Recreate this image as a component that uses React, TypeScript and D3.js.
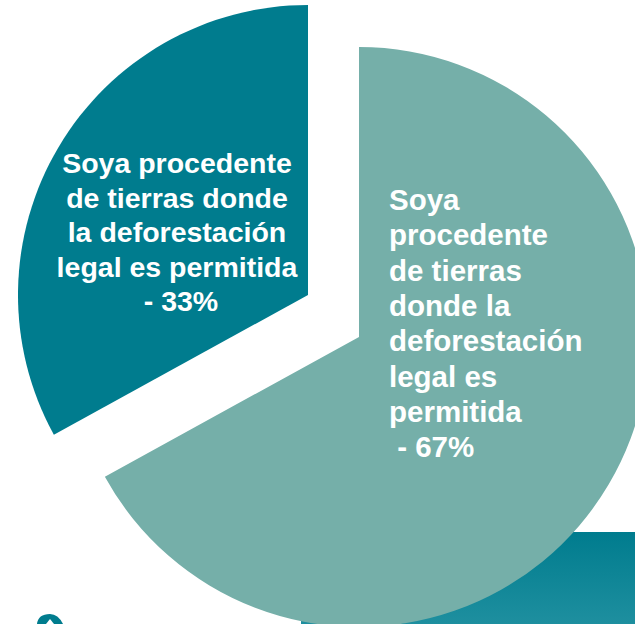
import React from 'react'
import * as d3 from 'd3'

// data
const categories = ['legal67', 'legal33']
const shares = [67, 33]
const labels = [
  ['Soya', 'procedente', 'de tierras', 'donde la', 'deforestación', 'legal es', 'permitida', ' - 67%'],
  ['Soya procedente', 'de tierras donde', 'la deforestación', 'legal es permitida', ' - 33%'],
]
const colors = ['#75AFA9', '#007C8E']

const W = 635
const H = 624
const R = 290
// each slice is pulled apart, so each has its own centre
const centres: [number, number][] = [
  [359, 337],
  [308, 295],
]

const App = () => {
  const pie = d3.pie<number>().sort(null).startAngle(0).endAngle(2 * Math.PI)
  const arcs = pie(shares)
  const arc = d3.arc<d3.PieArcDatum<number>>().innerRadius(0).outerRadius(R)
  const font = '"Liberation Sans", Arial, sans-serif'

  return (
    <svg width={W} height={H} style={{ position: 'absolute', left: 0, top: 0, background: '#fff' }}>
      <defs>
        <linearGradient id="band" x1="0" y1="0" x2="0" y2="1">
          <stop offset="0" stopColor="#007C8E" />
          <stop offset="1" stopColor="#1E8F9F" />
        </linearGradient>
      </defs>
      <rect x={301} y={532} width={W - 301} height={H - 532} fill="url(#band)" />
      <path d="M37,624 Q38,614 50,614 Q58,614 63,624 Z" fill="#007C8E" />
      <path d="M46,624 L50,619 L54,624 Z" fill="#fff" />

      {arcs.map((a, i) => (
        <path
          key={categories[i]}
          d={arc(a) || ''}
          transform={`translate(${centres[i][0]},${centres[i][1]})`}
          fill={colors[i]}
        />
      ))}

      <text fill="#fff" fontFamily={font} fontWeight="bold" fontSize={29.5}>
        {labels[0].map((t, j) => (
          <tspan key={j} x={389} y={210 + j * 35.3} style={{ whiteSpace: 'pre' }}>
            {t}
          </tspan>
        ))}
      </text>
      <text fill="#fff" fontFamily={font} fontWeight="bold" fontSize={28.5} textAnchor="middle">
        {labels[1].map((t, j) => (
          <tspan key={j} x={177} y={173 + j * 34.6} style={{ whiteSpace: 'pre' }}>
            {t}
          </tspan>
        ))}
      </text>
    </svg>
  )
}

export default App
